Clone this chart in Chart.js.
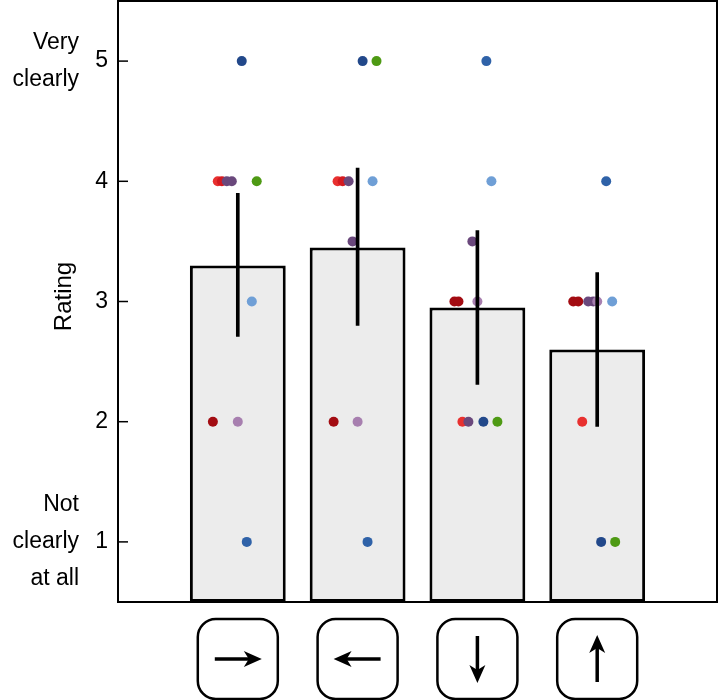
<!DOCTYPE html>
<html>
<head>
<meta charset="utf-8">
<script src="https://cdn.jsdelivr.net/npm/chart.js@4.4.1/dist/chart.umd.min.js"></script>
<style>
  html, body { margin: 0; padding: 0; background: #fff; }
</style>
</head>
<body>
<canvas id="ratingChart" width="719" height="700"></canvas>
<script>
// arrow direction shown under each bar
const directions = ['right', 'left', 'down', 'up'];
const meanRating = [3.3, 3.45, 2.95, 2.6];
const errLow = [2.71, 2.8, 2.31, 1.96];
const errHigh = [3.9, 4.11, 3.59, 3.24];
const tickValues = [1, 2, 3, 4, 5];
const tickNames = { 5: ['Very', 'clearly'], 1: ['Not', 'clearly', 'at all'] };

// single answers (x = bar index + small jitter)
const dotX = [
  0.033, -0.167, -0.133, -0.092, -0.05, 0.158, 0.117, -0.208, 0.0, 0.075,
  1.042, 1.158, 0.833, 0.875, 0.925, 1.125, 0.958, 0.8, 1.0, 1.083,
  2.075, 2.117, 1.958, 1.808, 1.842, 2.0, 1.875, 1.925, 2.05, 2.167,
  3.075, 2.8, 2.842, 2.925, 2.967, 3.0, 3.125, 2.875, 3.033, 3.15
];
const dotY = [
  5, 4, 4, 4, 4, 4, 3, 2, 2, 1,
  5, 5, 4, 4, 4, 4, 3.5, 2, 2, 1,
  5, 4, 3.5, 3, 3, 3, 2, 2, 2, 2,
  4, 3, 3, 3, 3, 3, 3, 2, 1, 1
];
const palette = {
  navy: '#22488a', blue: '#2f62a8', sky: '#6f9fd6', green: '#4e9a14',
  red: '#e8302f', crimson: '#d41a20', maroon: '#a30c12', plum: '#6a487c', lilac: '#a77faf'
};
const dotColor = [
  'navy', 'red', 'crimson', 'plum', 'plum', 'green', 'sky', 'maroon', 'lilac', 'blue',
  'navy', 'green', 'red', 'crimson', 'plum', 'sky', 'plum', 'maroon', 'lilac', 'blue',
  'blue', 'sky', 'plum', 'maroon', 'maroon', 'lilac', 'red', 'plum', 'navy', 'green',
  'blue', 'maroon', 'maroon', 'plum', 'plum', 'lilac', 'sky', 'red', 'navy', 'green'
].map(c => palette[c]);

const FONT = 'Liberation Sans, Arial, sans-serif';

function drawArrow(ctx, cx, cy, dir) {
  const angle = { right: 0, left: Math.PI, down: Math.PI / 2, up: -Math.PI / 2 }[dir];
  ctx.save();
  ctx.translate(cx, cy);
  ctx.rotate(angle);
  ctx.strokeStyle = '#000';
  ctx.fillStyle = '#000';
  ctx.lineWidth = 3.5;
  ctx.beginPath();
  ctx.moveTo(-23, 0);
  ctx.lineTo(12, 0);
  ctx.stroke();
  ctx.beginPath();
  ctx.moveTo(24, 0);
  ctx.lineTo(6, -8);
  ctx.lineTo(11, 0);
  ctx.lineTo(6, 8);
  ctx.closePath();
  ctx.fill();
  ctx.restore();
}

const decorations = {
  id: 'decorations',
  afterDraw(chart) {
    const ctx = chart.ctx;
    const area = chart.chartArea;
    const xs = chart.scales.x;
    const ys = chart.scales.y;
    ctx.save();

    // top and right frame
    ctx.strokeStyle = '#000';
    ctx.lineWidth = 2;
    ctx.beginPath();
    ctx.moveTo(area.left, area.top);
    ctx.lineTo(area.right, area.top);
    ctx.lineTo(area.right, area.bottom);
    ctx.stroke();

    // inward ticks
    ctx.lineWidth = 1.5;
    tickValues.forEach(v => {
      const y = ys.getPixelForValue(v);
      ctx.beginPath();
      ctx.moveTo(area.left, y);
      ctx.lineTo(area.left + 10, y);
      ctx.stroke();
    });

    // descriptive tick names
    ctx.fillStyle = '#000';
    ctx.font = '23px ' + FONT;
    ctx.textAlign = 'right';
    ctx.textBaseline = 'middle';
    Object.keys(tickNames).forEach(k => {
      const lines = tickNames[k];
      const y0 = ys.getPixelForValue(Number(k)) - (lines.length - 1) / 2 * 37;
      lines.forEach((t, j) => ctx.fillText(t, 79, y0 + j * 37));
    });

    // axis title
    ctx.save();
    ctx.translate(64, ys.getPixelForValue(3) - 5);
    ctx.rotate(-Math.PI / 2);
    ctx.textAlign = 'center';
    ctx.font = '24px ' + FONT;
    ctx.fillText('Rating', 0, 0);
    ctx.restore();

    // arrow key icons
    const cy = area.bottom + 57;
    directions.forEach((d, i) => {
      const cx = xs.getPixelForValue(i);
      ctx.lineWidth = 2.5;
      ctx.beginPath();
      ctx.roundRect(cx - 40, cy - 40, 80, 80, 18);
      ctx.stroke();
      drawArrow(ctx, cx, cy, d);
    });
    ctx.restore();
  }
};

new Chart(document.getElementById('ratingChart'), {
  type: 'bar',
  data: {
    datasets: [
      {
        type: 'bar',
        data: meanRating.map((v, i) => ({ x: i, y: v })),
        base: 0.5,
        backgroundColor: '#ececec',
        borderColor: '#000',
        borderWidth: 3,
        borderSkipped: false,
        barPercentage: 0.8,
        categoryPercentage: 1,
        grouped: false,
        order: 3
      },
      {
        type: 'scatter',
        data: dotX.map((x, i) => ({ x: x, y: dotY[i] })),
        pointBackgroundColor: dotColor,
        pointBorderWidth: 0,
        pointRadius: 5,
        order: 2
      },
      {
        type: 'bar',
        data: errLow.map((lo, i) => ({ x: i, y: [lo, errHigh[i]] })),
        backgroundColor: '#000',
        barThickness: 3,
        grouped: false,
        order: 1
      }
    ]
  },
  options: {
    responsive: false,
    animation: false,
    layout: { autoPadding: false, padding: { top: 1, right: 2, left: 0, bottom: 0 } },
    plugins: { legend: { display: false }, tooltip: { enabled: false } },
    scales: {
      x: {
        type: 'linear',
        min: -1,
        max: 4,
        offset: false,
        afterBuildTicks: s => { s.ticks = [-1, 0, 1, 2, 3, 4].map(v => ({ value: v })); },
        ticks: { display: false },
        grid: { display: false, drawTicks: false, offset: false },
        border: { display: true, color: '#000', width: 2 },
        afterFit: s => {
          s.height = 98;
          s.paddingLeft = 0; s.paddingRight = 0; s.paddingTop = 0; s.paddingBottom = 0;
        }
      },
      y: {
        min: 0.5,
        max: 5.5,
        afterBuildTicks: s => { s.ticks = tickValues.map(v => ({ value: v })); },
        ticks: { color: '#000', font: { size: 23, family: FONT }, padding: 10 },
        grid: { display: false, drawTicks: false },
        border: { display: true, color: '#000', width: 2 },
        afterFit: s => {
          s.width = 118;
          s.paddingLeft = 0; s.paddingRight = 0; s.paddingTop = 0; s.paddingBottom = 0;
        }
      }
    }
  },
  plugins: [decorations]
});
</script>
</body>
</html>
